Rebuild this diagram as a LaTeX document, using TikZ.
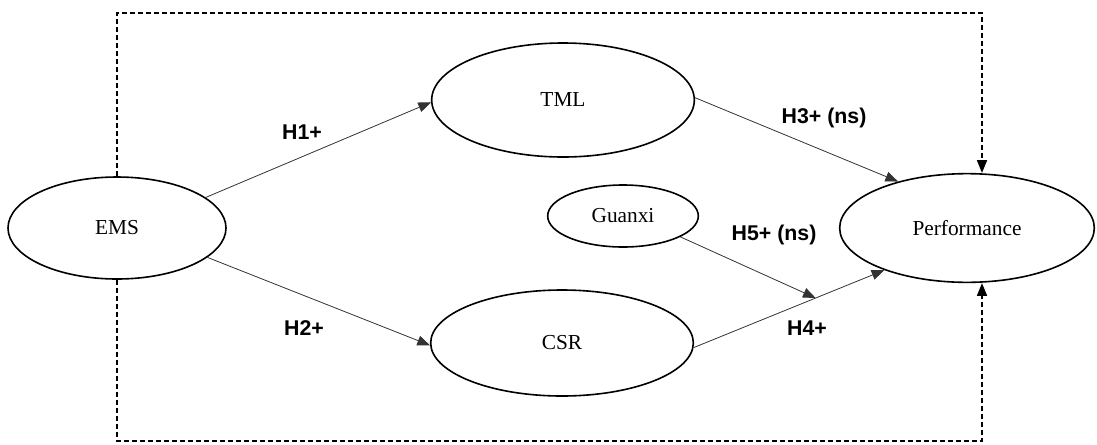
\documentclass[tikz,border=0pt]{standalone}
\usepackage{fontspec}
\setmainfont{Liberation Serif}
\newfontfamily\labfont{Liberation Sans}
\usetikzlibrary{shapes.geometric,arrows.meta,calc}
\tikzset{
  construct/.style={ellipse, draw=black, line width=1.2pt, inner sep=0pt, font=\fontsize{16}{19}\selectfont},
  path/.style={draw=black!80, line width=0.6pt, -{Triangle[length=9.5pt,width=7.5pt]}},
  ctrl/.style={draw=black, line width=1.1pt, dash pattern=on 3.8pt off 2.2pt, -{Triangle[length=9.5pt,width=7.5pt]}},
  hyp/.style={font=\labfont\bfseries\fontsize{16}{19}\selectfont, inner sep=0pt}
}
\begin{document}
\begin{tikzpicture}[x=0.75pt,y=-0.75pt]
\useasboundingbox (0,0) rectangle (1097,444);
\node[construct, minimum width=163.5pt, minimum height=76.5pt] (EMS) at (117,228) {EMS};
\node[construct, minimum width=197pt, minimum height=85.5pt] (TML) at (563,100) {TML};
\node[construct, minimum width=197pt, minimum height=79.5pt] (CSR) at (562,343) {CSR};
\node[construct, minimum width=113pt, minimum height=46.5pt] (Gx) at (623,216) {Guanxi};
\node[construct, minimum width=191pt, minimum height=81.5pt] (Perf) at (967,228) {Performance};

\coordinate (tr) at (982,13);
\coordinate (br) at (982,441);
\draw[ctrl] (EMS.north) |- (tr) -- (tr |- Perf.north);
\draw[ctrl] (EMS.south) |- (br) -- (br |- Perf.south);

\draw[path] (EMS.19.5) -- (TML.181);
\draw[path] (EMS.-18.4) -- (CSR.181);
\draw[path] (TML.1.3) -- (Perf.146.5);
\draw[path] (CSR.-2) -- (Perf.207);
\coordinate (mod) at ($(CSR.-2)!0.64!(Perf.207)$);
\draw[path] (Gx.-20) -- (mod);

\node[hyp] (h1) at (302,132) {H1+};
\node[hyp] (h2) at (304,328) {H2+};
\node[hyp] (h3) at (824,118) {H3+ (ns)};
\node[hyp] (h5) at (774,235) {H5+ (ns)};
\node[hyp] (h4) at (807,328) {H4+};
\end{tikzpicture}
\end{document}
